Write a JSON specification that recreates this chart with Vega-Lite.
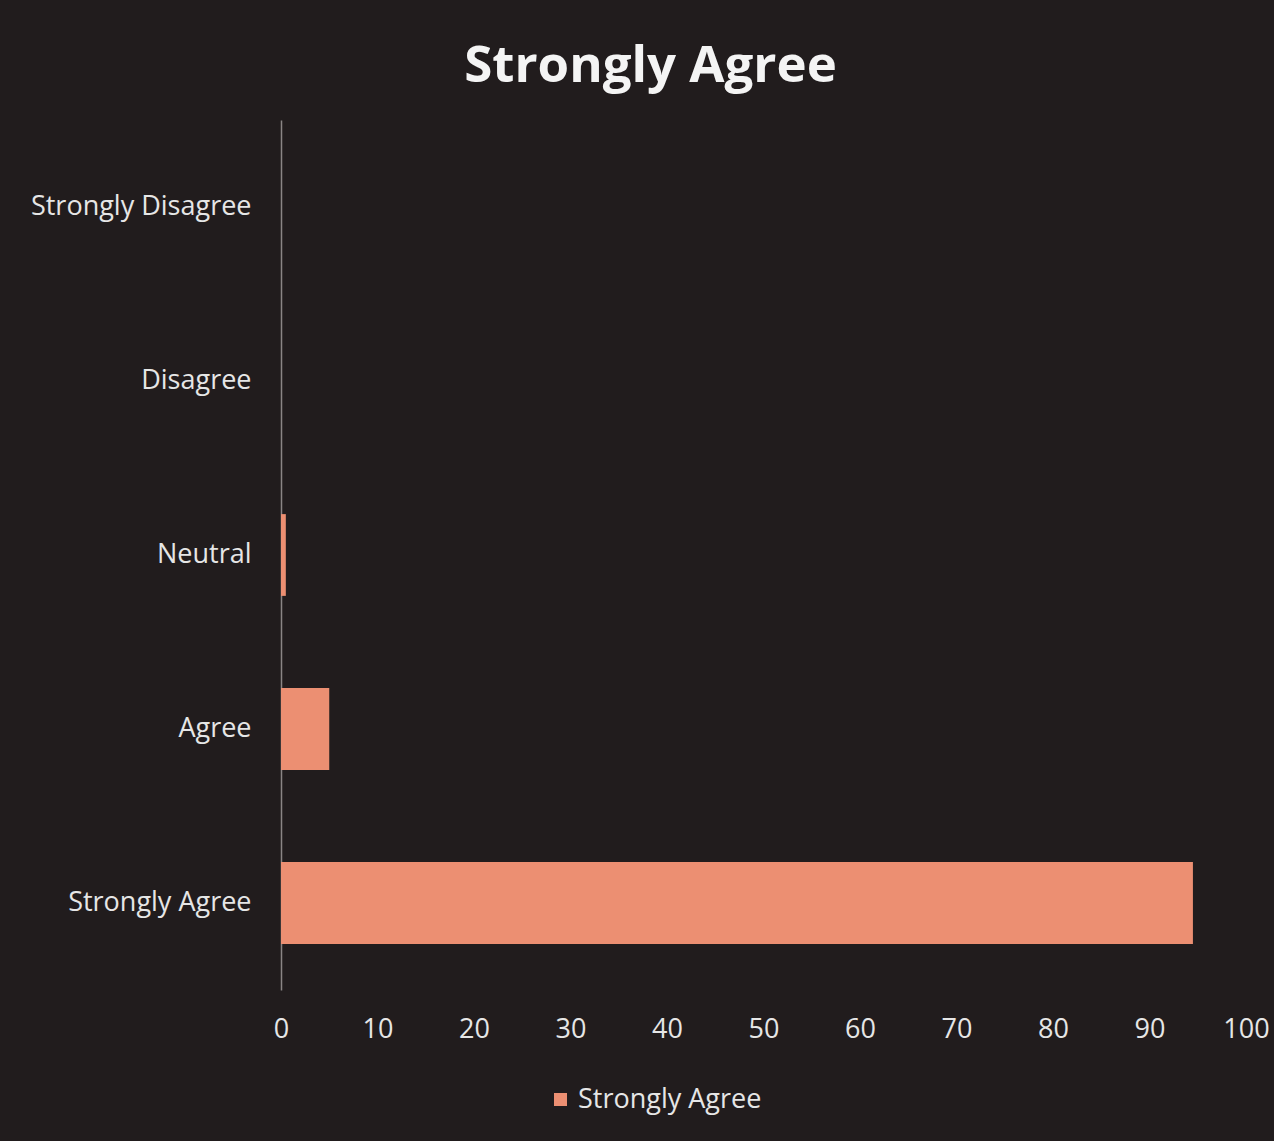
{
  "$schema": "https://vega.github.io/schema/vega-lite/v6.json",
  "autosize": "none",
  "width": 965,
  "height": 870,
  "padding": {"left": 281, "top": 120, "right": 28, "bottom": 151},
  "background": "#211c1d",
  "data": {"values": [
    {"response": "Strongly Disagree", "value": 0, "series": "Strongly Agree"},
    {"response": "Disagree", "value": 0, "series": "Strongly Agree"},
    {"response": "Neutral", "value": 0.5, "series": "Strongly Agree"},
    {"response": "Agree", "value": 5, "series": "Strongly Agree"},
    {"response": "Strongly Agree", "value": 94.5, "series": "Strongly Agree"}
  ]},
  "title": {
    "text": "Strongly Agree",
    "anchor": "middle",
    "dx": -113,
    "offset": 27,
    "font": "Open Sans",
    "fontSize": 51,
    "fontWeight": "bold",
    "color": "#f4f4f4"
  },
  "mark": {"type": "bar", "color": "#ec8f72"},
  "encoding": {
    "y": {
      "field": "response",
      "type": "nominal",
      "sort": ["Strongly Disagree", "Disagree", "Neutral", "Agree", "Strongly Agree"],
      "scale": {"paddingInner": 0.53, "paddingOuter": 0.265},
      "axis": {
        "title": null,
        "ticks": false,
        "labelPadding": 30,
        "labelLimit": 0,
        "labelFont": "Open Sans",
        "labelFontSize": 27,
        "labelColor": "#e6e6e6",
        "domainColor": "#8a8585",
        "domainWidth": 1.5
      }
    },
    "x": {
      "field": "value",
      "type": "quantitative",
      "scale": {"domain": [0, 100]},
      "axis": {
        "title": null,
        "values": [0, 10, 20, 30, 40, 50, 60, 70, 80, 90, 100],
        "grid": false,
        "domain": false,
        "ticks": false,
        "labelPadding": 26,
        "labelFont": "Open Sans",
        "labelFontSize": 27,
        "labelColor": "#e6e6e6",
        "labelFlush": false
      }
    },
    "color": {
      "field": "series",
      "type": "nominal",
      "scale": {"range": ["#ec8f72"]},
      "legend": {
        "title": null,
        "orient": "none",
        "legendX": 266,
        "legendY": 966,
        "symbolType": "square",
        "symbolSize": 170,
        "labelLimit": 0,
        "labelFont": "Open Sans",
        "labelFontSize": 27,
        "labelColor": "#e6e6e6"
      }
    }
  },
  "config": {"view": {"stroke": null}}
}
